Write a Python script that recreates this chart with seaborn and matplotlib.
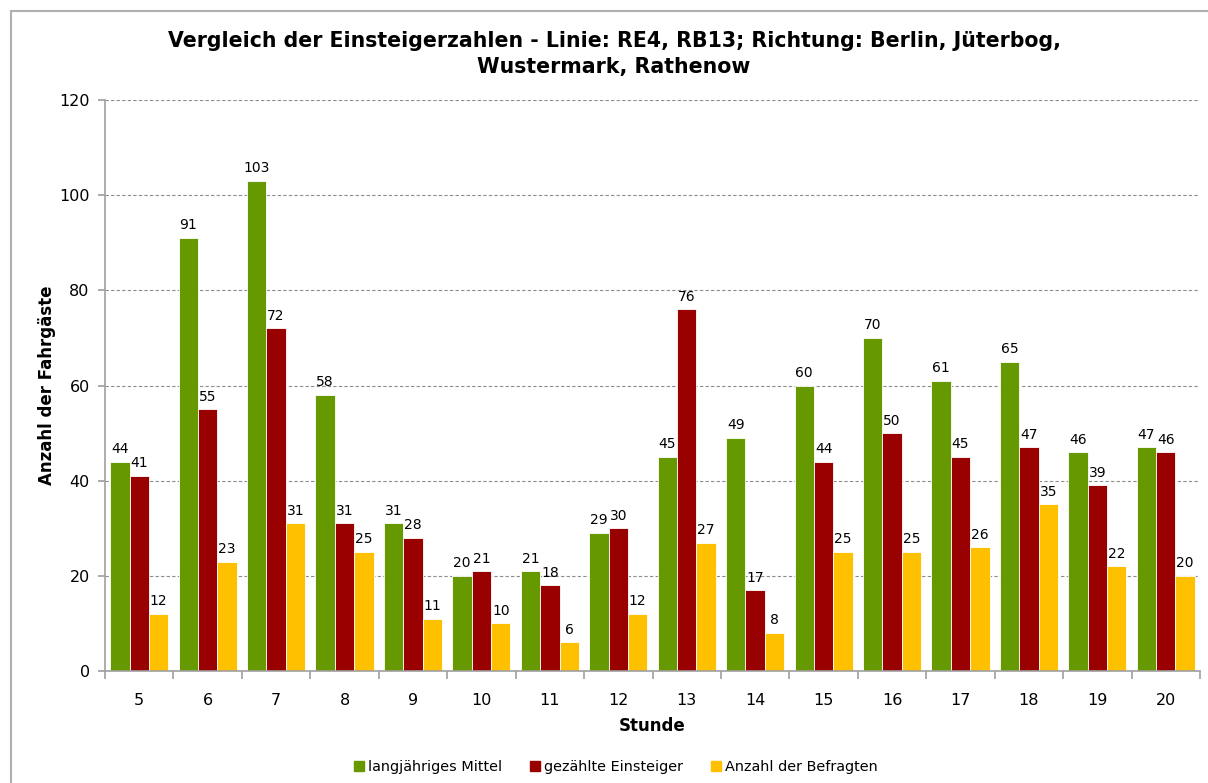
import numpy as np
import pandas as pd
import matplotlib
matplotlib.use("Agg")
import matplotlib.pyplot as plt
import matplotlib.patches as mpatches
import seaborn as sns

hours = [5, 6, 7, 8, 9, 10, 11, 12, 13, 14, 15, 16, 17, 18, 19, 20]
mittel = [44, 91, 103, 58, 31, 20, 21, 29, 45, 49, 60, 70, 61, 65, 46, 47]
gezaehlt = [41, 55, 72, 31, 28, 21, 18, 30, 76, 17, 44, 50, 45, 47, 39, 46]
befragt = [12, 23, 31, 25, 11, 10, 6, 12, 27, 8, 25, 25, 26, 35, 22, 20]
series_names = ["langjähriges Mittel", "gezählte Einsteiger", "Anzahl der Befragten"]
colors = ["#669900", "#990000", "#FFC000"]

df = pd.DataFrame({
    "Stunde": [str(h) for h in hours] * 3,
    "Wert": mittel + gezaehlt + befragt,
    "Serie": sum([[n] * len(hours) for n in series_names], []),
})

sns.set_theme(style="white")
plt.rcParams['font.family'] = ['DejaVu Sans']
plt.rcParams['text.color'] = 'black'
plt.rcParams['axes.labelcolor'] = 'black'
plt.rcParams['xtick.labelcolor'] = 'black'
plt.rcParams['ytick.labelcolor'] = 'black'

fig = plt.figure(figsize=(12.08, 7.83), dpi=100)
ax = fig.add_axes([105 / 1208, 1 - 671 / 783, (1200 - 105) / 1208, (671 - 100) / 783])

sns.barplot(data=df, x="Stunde", y="Wert", hue="Serie", palette=colors,
            order=[str(h) for h in hours], hue_order=series_names,
            width=0.85, edgecolor="white", linewidth=0.6, saturation=1,
            ax=ax, legend=True)

for cont in ax.containers:
    ax.bar_label(cont, fmt="%d", padding=4, fontsize=10, color="black")

ax.set_ylim(0, 120)
ax.set_xlim(-0.5, len(hours) - 0.5)
ax.set_yticks(np.arange(0, 121, 20))
ax.yaxis.grid(True, linestyle=(0, (3, 2)), color="#8c8c8c", linewidth=0.8)
ax.set_axisbelow(True)
for s in ["top", "right"]:
    ax.spines[s].set_visible(False)
for s in ["left", "bottom"]:
    ax.spines[s].set_color("#a0a0a0")
    ax.spines[s].set_linewidth(1.2)

ax.tick_params(axis="y", which="major", left=True, length=5, color="#a0a0a0",
               labelsize=11.5, pad=6)
ax.tick_params(axis="x", which="major", bottom=False, labelsize=11.5, pad=10)
ax.set_xticks(np.arange(-0.5, len(hours), 1.0), minor=True)
ax.tick_params(axis="x", which="minor", bottom=True, length=6, color="#a0a0a0", width=1.2)

ax.set_xlabel("Stunde", fontsize=12, fontweight="bold", labelpad=6)
ax.set_ylabel("Anzahl der Fahrgäste", fontsize=12, fontweight="bold", labelpad=2)

fig.suptitle("Vergleich der Einsteigerzahlen - Linie: RE4, RB13; Richtung: Berlin, Jüterbog,\nWustermark, Rathenow",
             x=614 / 1208, y=1 - 31 / 783, fontsize=14.8, fontweight="bold", va="top",
             linespacing=1.4, color="black")

handles = [mpatches.Patch(color=c, label=n) for c, n in zip(colors, series_names)]
ax.legend(handles=handles, loc="center", bbox_to_anchor=(616 / 1208, 1 - 767 / 783),
          bbox_transform=fig.transFigure, ncol=3, frameon=False, fontsize=10.4,
          handlelength=0.7, handleheight=0.7, handletextpad=0.3, columnspacing=1.9)

border = mpatches.Rectangle((11 / 1208, -0.1), 1.2, (783 - 11) / 783 + 0.1,
                            transform=fig.transFigure, fill=False,
                            edgecolor="#b0b0b0", linewidth=1.5, clip_on=False)
fig.patches.append(border)

fig.savefig("out.png", dpi=100)
